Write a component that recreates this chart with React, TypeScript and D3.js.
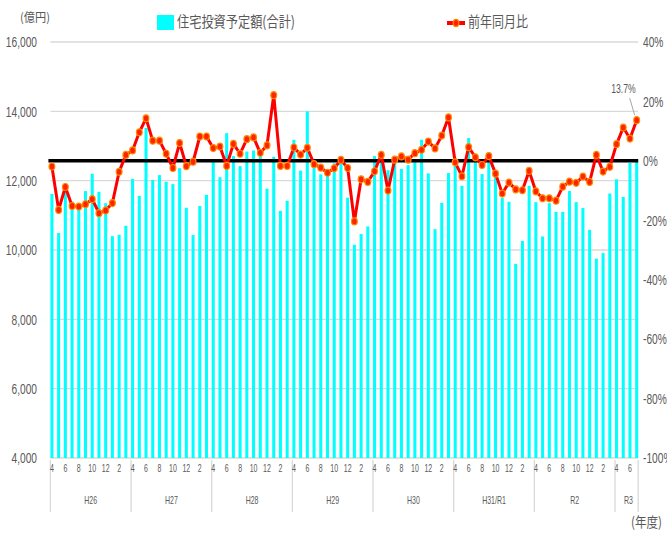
import React from "react";
import * as d3 from "d3";

// 住宅投資予定額(合計) 億円, H26.4 - R3.7
const amounts = [
  11620, 10490, 11750, 11400, 11350, 11700, 12200, 11680, 11350, 10400, 10440, 10700,
  12050, 11560, 13520, 12020, 12160, 11970, 11900, 12360, 11220, 10430, 11270, 11590,
  12570, 12100, 13370, 12710, 12420, 12840, 12870, 12840, 11770, 12690, 11130, 11420,
  13180, 12290, 14000, 12480, 12180, 12130, 12500, 12580, 11510, 10150, 10460, 10680,
  12710, 12700, 12300, 12600, 12340, 12450, 12600, 13180, 12210, 10600, 11360, 12220,
  12650, 11850, 13230, 12600, 12190, 12690, 12150, 11500, 11390, 9600, 10260, 11850,
  11380, 10390, 11350, 11100, 11100, 11700, 11380, 11210, 10580, 9750, 9910, 11630,
  12040, 11530, 12510, 12580,
];

// 前年同月比 %
const yoy = [
  -1.9, -16.5, -8.8, -15.2, -15.4, -14.6, -12.9, -17.6, -16.7, -14.2, -3.7, 2.0,
  3.5, 9.6, 14.3, 6.8, 6.8, 2.4, -2.4, 6.0, -1.8, -0.3, 8.2, 8.2,
  4.3, 4.8, -1.7, 5.7, 2.4, 7.3, 7.9, 2.7, 5.2, 22.1, -1.7, -1.7,
  4.5, 2.1, 4.4, -1.1, -2.3, -4.0, -2.5, 0.3, -2.4, -20.4, -6.2, -7.1,
  -3.5, 2.0, -10.0, 0.4, 1.5, 0.4, 2.6, 3.7, 6.5, 4.2, 8.5, 14.6,
  -0.5, -5.2, 4.6, 1.2, -1.4, 1.6, -4.3, -11.0, -7.3, -9.6, -9.9, -3.4,
  -10.3, -12.6, -12.6, -13.4, -8.7, -7.0, -7.4, -5.3, -7.1, 2.0, -3.6, -2.0,
  5.6, 11.2, 7.5, 13.7,
];

const monthLabels = ["4", "6", "8", "10", "12", "2"];
const yearLabels = ["H26", "H27", "H28", "H29", "H30", "H31/R1", "R2", "R3"];
const leftTicks = [4000, 6000, 8000, 10000, 12000, 14000, 16000];
const rightTicks = [-100, -80, -60, -40, -20, 0, 20, 40];

const W = 667;
const H = 536;
const top = 42;
const bottom = 458;
const left = 50.4;
const right = 638.2;

const gray = "#595959";
const sans = "'Liberation Sans', Arial, sans-serif";
const jp = "'Noto Sans CJK JP', sans-serif";

// condensed text, like the narrow font of the original
const NText = ({ x, y, size, anchor = "start", sx = 0.7, children }: any) => (
  <text
    transform={`translate(${x},${y}) scale(${sx},1)`}
    dy="0.35em"
    textAnchor={anchor}
    fontSize={size}
    fill={gray}
    fontFamily={sans}
  >
    {children}
  </text>
);

export default function App() {
  const idx = d3.range(amounts.length);
  const x = d3.scaleBand<number>().domain(idx).range([left, right]).paddingInner(0.55).paddingOuter(0).align(0);
  const step = x.step();
  const yL = d3.scaleLinear().domain([4000, 16000]).range([bottom, top]);
  const yR = d3.scaleLinear().domain([-100, 40]).range([bottom, top]);
  const cx = (i: number) => (x(i) as number) + x.bandwidth() / 2;

  const line = d3
    .line<number>()
    .x((_, i) => cx(i))
    .y((d) => yR(d));

  const nYears = Math.ceil(amounts.length / 12);
  const last = amounts.length - 1;

  return (
    <svg width={W} height={H} style={{ position: "absolute", left: 0, top: 0 }}>
      {/* gridlines */}
      {leftTicks.map((t) => (
        <line key={t} x1={left} x2={right} y1={yL(t)} y2={yL(t)} stroke="#d9d9d9" strokeWidth={1.3} />
      ))}
      {/* left axis labels */}
      {leftTicks.map((t) => (
        <NText key={t} x={37} y={yL(t)} size={15} anchor="end" sx={0.68}>
          {d3.format(",")(t)}
        </NText>
      ))}
      {/* right axis labels */}
      {rightTicks.map((t) => (
        <NText key={t} x={643} y={yR(t)} size={15} sx={0.68}>
          {t + "%"}
        </NText>
      ))}
      {/* bars */}
      {amounts.map((v, i) => (
        <rect key={i} x={x(i)} y={yL(v)} width={x.bandwidth()} height={bottom - yL(v)} fill="#00ffff" />
      ))}
      {/* zero line */}
      <line x1={left - 2} x2={right} y1={yR(0)} y2={yR(0)} stroke="#000" strokeWidth={3.5} />
      {/* yoy line */}
      <path d={line(yoy) || ""} fill="none" stroke="#ff0000" strokeWidth={3} strokeLinejoin="round" />
      {yoy.map((v, i) => (
        <ellipse key={i} cx={cx(i)} cy={yR(v)} rx={2.9} ry={3.5} fill="#ff2200" stroke="#ff8c00" strokeWidth={1.2} />
      ))}
      {/* last value label */}
      <line x1={cx(last) - 7} y1={yR(yoy[last]) - 22} x2={cx(last) - 2} y2={yR(yoy[last]) - 5} stroke="#a6a6a6" strokeWidth={1} />
      <NText x={cx(last) - 1} y={yR(yoy[last]) - 31} size={12} anchor="end" sx={0.72}>
        {d3.format(".1f")(yoy[last]) + "%"}
      </NText>
      {/* x axis: separators, months, years */}
      {d3.range(nYears + 1).map((k) => {
        const xi = Math.min(k * 12, amounts.length);
        const xx = xi < amounts.length ? (x(xi) as number) : right;
        return <line key={k} x1={xx} x2={xx} y1={bottom + 2} y2={512} stroke="#d9d9d9" strokeWidth={1.3} />;
      })}
      {idx
        .filter((i) => i % 2 === 0)
        .map((i) => (
          <NText key={i} x={cx(i)} y={468} size={10} anchor="middle" sx={0.7}>
            {monthLabels[(i % 12) / 2]}
          </NText>
        ))}
      {yearLabels.map((lab, k) => {
        const s = k * 12;
        const e = Math.min(s + 12, amounts.length);
        const mid = left + ((s + e) / 2) * step;
        return (
          <NText key={lab} x={mid} y={500} size={10} anchor="middle" sx={0.7}>
            {lab}
          </NText>
        );
      })}
      {/* units */}
      <text x={20} y={18} dy="0.35em" fontSize={12} fill={gray} fontFamily={jp} textLength={30} lengthAdjust="spacingAndGlyphs">
        (億円)
      </text>
      <text x={631} y={522} dy="0.35em" fontSize={14} fill={gray} fontFamily={jp} textLength={31} lengthAdjust="spacingAndGlyphs">
        (年度)
      </text>
      {/* legend */}
      <rect x={157} y={15} width={17} height={15} fill="#00ffff" />
      <text x={177} y={22} dy="0.35em" fontSize={15} fill={gray} fontFamily={jp} textLength={118} lengthAdjust="spacingAndGlyphs">
        住宅投資予定額(合計)
      </text>
      <line x1={447} x2={465} y1={23} y2={23} stroke="#ff0000" strokeWidth={4} />
      <ellipse cx={456} cy={23} rx={2.8} ry={3.6} fill="#ff2200" stroke="#ff8c00" strokeWidth={1.2} />
      <text x={468} y={22} dy="0.35em" fontSize={15} fill={gray} fontFamily={jp} textLength={60} lengthAdjust="spacingAndGlyphs">
        前年同月比
      </text>
    </svg>
  );
}
